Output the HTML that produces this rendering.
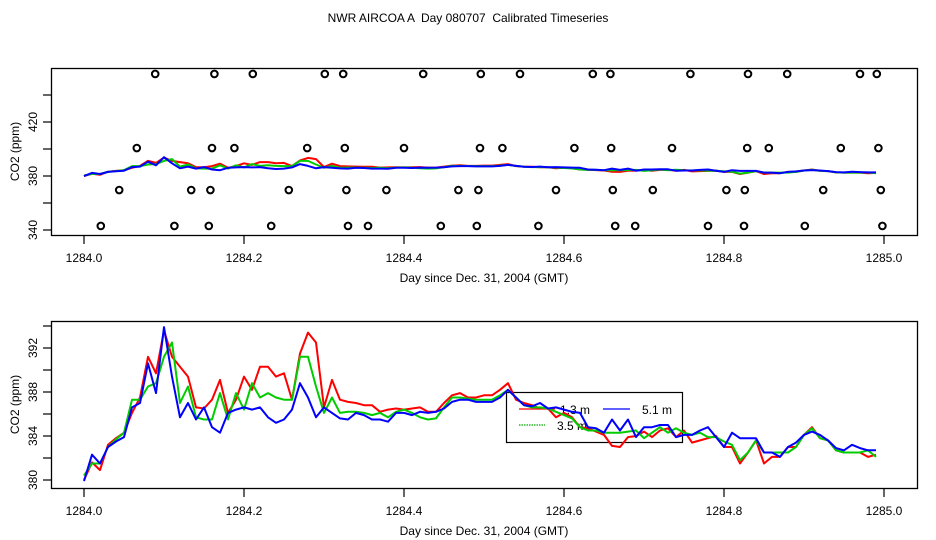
<!DOCTYPE html>
<html><head><meta charset="utf-8"><style>
body{margin:0;background:#fff;}
svg{display:block;font-family:"Liberation Sans",sans-serif;}
</style></head><body>
<svg id="chart" width="936" height="540" xmlns="http://www.w3.org/2000/svg">
<text x="468" y="22" font-size="12" text-anchor="middle" style="white-space:pre">NWR AIRCOA A  Day 080707  Calibrated Timeseries</text>
<g id="topPanel"></g>
<g id="botPanel"></g>
</svg>
<script>
const red13 = [380.0,381.6,380.9,383.2,383.8,384.3,386.1,387.5,391.2,389.7,393.6,391.2,390.3,389.4,386.6,386.5,387.3,389.1,386.1,387.3,389.4,388.2,390.3,390.3,389.4,389.7,387.3,391.5,393.4,392.5,386.6,389.1,387.3,387.1,387.0,386.8,386.8,386.2,386.4,386.5,386.4,386.5,386.6,386.2,386.2,387.0,387.7,387.9,387.5,387.5,387.7,387.7,388.2,388.8,387.3,387.0,386.8,386.5,386.5,385.7,386.1,385.7,384.8,384.7,384.4,384.1,383.1,383.0,383.9,384.0,384.4,383.9,384.5,384.7,383.9,384.5,383.4,383.6,383.8,384.0,383.0,383.0,381.5,382.5,383.6,381.5,382.1,382.1,383.0,383.0,384.1,384.8,383.8,383.6,382.7,382.5,382.5,382.5,382.1,382.3];
const green35 = [380.4,381.5,381.5,383.0,383.7,384.3,387.3,387.3,388.5,388.8,391.2,392.5,387.0,388.5,385.7,385.5,385.5,387.9,385.5,387.9,386.4,388.8,387.5,387.9,387.5,387.3,387.3,391.2,391.2,388.5,386.1,387.5,386.1,386.2,386.2,386.1,385.9,386.1,385.7,386.2,386.4,386.1,385.7,385.5,385.6,386.6,387.5,387.5,387.4,387.3,387.3,387.3,387.7,388.2,387.5,386.8,386.6,386.6,386.5,386.2,385.9,385.6,384.8,384.5,384.5,384.3,384.3,384.3,384.4,384.5,383.8,384.3,384.8,384.3,384.7,384.3,384.1,384.3,383.9,383.9,383.5,383.2,381.8,382.5,383.6,382.5,382.5,382.5,382.5,383.0,384.1,384.7,383.8,383.6,382.7,382.5,382.5,382.5,382.7,382.1];
const blue51 = [379.9,382.3,381.5,383.0,383.5,383.9,386.6,387.0,390.6,387.9,393.9,389.4,385.7,387.0,385.5,386.6,384.8,384.3,386.1,386.4,386.6,386.4,386.6,385.7,385.2,385.5,386.4,388.8,387.5,385.7,386.6,386.1,385.6,385.5,386.1,385.9,385.5,385.5,385.3,386.1,386.1,385.9,386.2,386.1,386.2,386.5,387.1,387.3,387.3,387.1,387.1,387.1,387.5,388.2,387.5,386.8,386.7,387.0,386.5,386.6,386.4,386.2,386.1,384.8,384.7,384.3,385.5,384.5,385.5,383.9,384.8,384.8,385.0,385.0,383.9,384.1,384.1,384.5,384.8,383.9,383.0,384.3,383.8,383.8,383.8,382.5,382.5,382.1,383.0,383.4,384.1,384.4,384.1,383.6,382.9,382.7,383.2,382.9,382.7,382.7];
const dayStart = 1284.00, dayStep = 0.01;
const flagRowLevels = [455.6, 400.7, 369.6, 343.0];
const flagRow1 = [0.089,0.163,0.211,0.301,0.324,0.424,0.496,0.545,0.636,0.658,0.758,0.830,0.879,0.970,0.991];
const flagRow2 = [0.066,0.160,0.188,0.279,0.326,0.400,0.495,0.523,0.613,0.659,0.735,0.829,0.856,0.946,0.993];
const flagRow3 = [0.044,0.134,0.158,0.256,0.328,0.378,0.468,0.493,0.590,0.661,0.711,0.803,0.826,0.924,0.996];
const flagRow4 = [0.021,0.113,0.156,0.234,0.330,0.355,0.446,0.491,0.568,0.664,0.689,0.780,0.825,0.901,0.998];
const xTicks = [1284.0,1284.2,1284.4,1284.6,1284.8,1285.0];
const topYTicks = [340,360,380,400,420,440];
const topYLabels = [340,380,420];
const botYTicks = [380,382,384,386,388,390,392,394];
const botYLabels = [380,384,388,392];
const seriesNames = ["1.3 m","3.5 m","5.1 m"];

const NS="http://www.w3.org/2000/svg";
function mk(tag, attrs, parent){const e=document.createElementNS(NS,tag);for(const k in attrs)e.setAttribute(k,attrs[k]);parent.appendChild(e);return e;}
const xS = d => 84 + (d-1284.0)*800;

function panel(g, y0, y1, yS, yTicks, yLabels, lw){
  const box = mk('rect',{x:51.5,y:y0+0.5,width:866,height:y1-y0,fill:'none',stroke:'#000','stroke-width':1.3},g);
  
  
  xTicks.forEach(t=>{
    const l=mk('line',{x1:xS(t),x2:xS(t),y1:y1+1,y2:y1+9,stroke:'#000','stroke-width':1.2},g);
    
    
    const tx=mk('text',{x:xS(t),y:y1+27,'font-size':12,'text-anchor':'middle'},g);
    tx.textContent=t.toFixed(1);
    
    
  });
  yTicks.forEach(t=>{
    const l=mk('line',{x1:43,x2:51,y1:yS(t),y2:yS(t),stroke:'#000','stroke-width':1.2},g);
    
    
  });
  yLabels.forEach(t=>{
    const tx=mk('text',{x:0,y:0,'font-size':12,'text-anchor':'middle',transform:`translate(37,${yS(t)}) rotate(-90)`},g);
    tx.textContent=t;
    
    
  });
  const xl=mk('text',{x:484,y:y1+47,'font-size':12,'text-anchor':'middle'},g);
  xl.textContent='Day since Dec. 31, 2004 (GMT)';
  
  
  const yl=mk('text',{x:0,y:0,'font-size':12,'text-anchor':'middle',transform:`translate(19,${(y0+y1)/2}) rotate(-90)`},g);
  yl.textContent='CO2 (ppm)';
  
  
  const series=[[red13,'#ff0000','series-1-3m'],[green35,'#00cc00','series-3-5m'],[blue51,'#0000ff','series-5-1m']];
  series.forEach(([arr,col,name])=>{
    const pts=arr.map((v,i)=>xS(dayStart+i*dayStep).toFixed(1)+','+yS(v).toFixed(1)).join(' ');
    const p=mk('polyline',{points:pts,fill:'none',stroke:col,'stroke-width':lw,'stroke-linejoin':'round'},g);
    
    
  });
}

const topG=document.getElementById('topPanel');
const topY = v => 176 - (v-380)*1.35;
panel(topG, 68, 235, topY, topYTicks, topYLabels, 2);
[flagRow1,flagRow2,flagRow3,flagRow4].forEach((row,ri)=>{
  row.forEach(d=>{
    const c=mk('circle',{cx:xS(dayStart+d),cy:topY(flagRowLevels[ri]),r:3.3,fill:'none',stroke:'#000','stroke-width':2},topG);
    
    
  });
});

const botG=document.getElementById('botPanel');
const botY = v => 480 - (v-380)*11;
const lg=mk('g',{},botG);


mk('rect',{x:506.5,y:392.5,width:176,height:50,fill:'#fff',stroke:'#000','stroke-width':1.2},lg);
const le=[[519,555,409,'#ff0000',560,seriesNames[0],''],[603,630,409,'#0000ff',642,seriesNames[2],''],[519,545,425,'#00aa00',557,seriesNames[1],'1.5,1']];
le.forEach(([a,b,y,c,tx,lab,dash])=>{
  const l=mk('line',{x1:a,x2:b,y1:y,y2:y,stroke:c,'stroke-width':1.3},lg);
  if(dash)l.setAttribute('stroke-dasharray',dash);
  
  
  const t=mk('text',{x:tx,y:y+5,'font-size':12},lg);
  t.textContent=lab;
  
  
});
panel(botG, 321, 488, botY, botYTicks, botYLabels, 2);
</script>
</body></html>
